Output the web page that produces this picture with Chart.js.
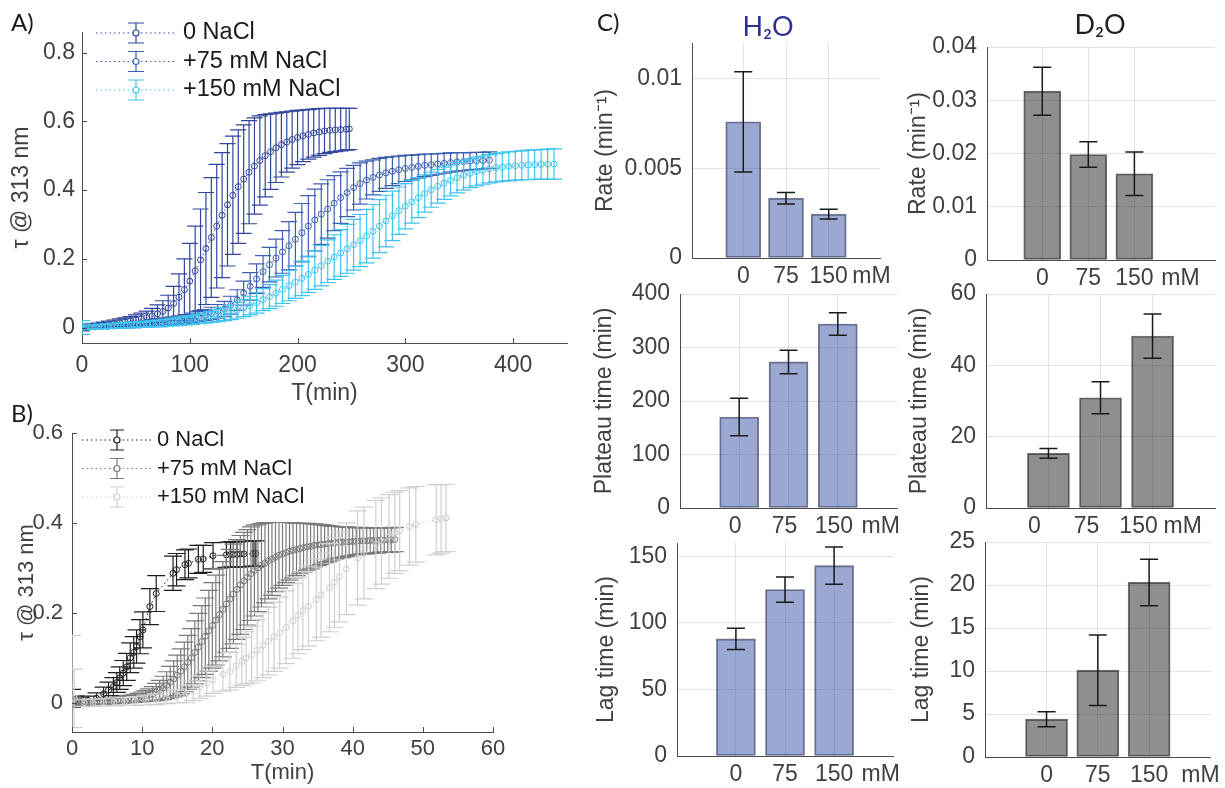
<!DOCTYPE html>
<html>
<head>
<meta charset="utf-8">
<title>NaCl kinetics</title>
<script src="https://cdn.jsdelivr.net/npm/chart.js@4.4.1/dist/chart.umd.min.js"></script>
<style>
  body { margin: 0; background: #fff; }
  #figure { position: relative; width: 1225px; height: 788px; overflow: hidden; background: #fff; }
  #figure canvas { position: absolute; left: 0; top: 0; }
  .tag { position: absolute; font-family: Lato, "Open Sans", sans-serif; line-height: 1; white-space: nowrap; }
</style>
</head>
<body>
<div id="figure">
  <canvas id="panelA" width="1225" height="788"></canvas>
  <canvas id="panelB" width="1225" height="788"></canvas>
  <canvas id="h2oRate" width="1225" height="788"></canvas>
  <canvas id="h2oPlateau" width="1225" height="788"></canvas>
  <canvas id="h2oLag" width="1225" height="788"></canvas>
  <canvas id="d2oRate" width="1225" height="788"></canvas>
  <canvas id="d2oPlateau" width="1225" height="788"></canvas>
  <canvas id="d2oLag" width="1225" height="788"></canvas>
  <div class="tag" style="left:11px;top:10px;font-size:24px;color:#1a1a1a">A)</div>
  <div class="tag" style="left:11px;top:401px;font-size:24px;color:#1a1a1a">B)</div>
  <div class="tag" style="left:597px;top:10px;font-size:24px;color:#1a1a1a">C)</div>
  <div class="tag" style="left:768px;top:12px;font-size:27px;color:#2e3192;transform:translateX(-50%)">H₂O</div>
  <div class="tag" style="left:1100px;top:10px;font-size:27px;color:#231f20;transform:translateX(-50%)">D₂O</div>
</div>
<script>
/* --------------- Panel A data (H2O, tau @ 313 nm vs time) --------------------- */
const aTime0 = [0, 5, 10, 15, 20, 25, 30, 35, 40, 45, 50, 55, 60, 65, 70, 75, 80, 85, 90, 95,
  100, 105, 110, 115, 120, 125, 130, 135, 140, 145, 150, 155, 160, 165, 170, 175, 180, 185, 190, 195,
  200, 205, 210, 215, 220, 225, 230, 235, 240, 245, 248];
const aValue0 = [0.000, 0.002, 0.004, 0.006, 0.008, 0.010, 0.012, 0.014, 0.016, 0.019, 0.022, 0.025, 0.029, 0.034, 0.040, 0.047, 0.057, 0.070, 0.088, 0.110,
  0.135, 0.165, 0.197, 0.230, 0.262, 0.295, 0.327, 0.357, 0.385, 0.410, 0.432, 0.452, 0.470, 0.486, 0.500, 0.512, 0.523, 0.532, 0.540, 0.547,
  0.553, 0.558, 0.562, 0.566, 0.569, 0.572, 0.574, 0.575, 0.576, 0.577, 0.578];
const aError0 = [0.008, 0.006, 0.006, 0.007, 0.008, 0.009, 0.010, 0.011, 0.012, 0.013, 0.015, 0.017, 0.019, 0.022, 0.026, 0.031, 0.037, 0.050, 0.068, 0.090,
  0.110, 0.130, 0.148, 0.163, 0.174, 0.180, 0.182, 0.178, 0.172, 0.165, 0.158, 0.150, 0.140, 0.130, 0.120, 0.110, 0.101, 0.094, 0.088, 0.083,
  0.079, 0.075, 0.072, 0.070, 0.068, 0.066, 0.064, 0.063, 0.062, 0.061, 0.060];

const aTime75 = [0, 6, 12, 18, 24, 30, 36, 42, 48, 54, 60, 66, 72, 78, 84, 90, 96, 102, 108, 114,
  120, 126, 132, 138, 144, 150, 156, 162, 168, 174, 180, 186, 192, 198, 204, 210, 216, 222, 228, 234,
  240, 246, 252, 258, 264, 270, 276, 282, 288, 294, 300, 306, 312, 318, 324, 330, 336, 342, 348, 354,
  360, 366, 372, 378];
const aValue75 = [0.000, 0.001, 0.002, 0.003, 0.004, 0.005, 0.006, 0.007, 0.008, 0.010, 0.012, 0.014, 0.016, 0.018, 0.020, 0.022, 0.025, 0.028, 0.032, 0.036,
  0.041, 0.047, 0.054, 0.065, 0.080, 0.100, 0.120, 0.142, 0.163, 0.183, 0.202, 0.220, 0.238, 0.257, 0.276, 0.295, 0.313, 0.330, 0.345, 0.362,
  0.378, 0.393, 0.407, 0.419, 0.429, 0.437, 0.444, 0.450, 0.455, 0.459, 0.463, 0.466, 0.469, 0.472, 0.474, 0.476, 0.478, 0.480, 0.482, 0.483,
  0.484, 0.485, 0.486, 0.487];
const aError75 = [0.010, 0.005, 0.005, 0.006, 0.006, 0.006, 0.007, 0.007, 0.008, 0.008, 0.009, 0.009, 0.010, 0.010, 0.011, 0.012, 0.013, 0.014, 0.015, 0.016,
  0.018, 0.020, 0.022, 0.026, 0.030, 0.035, 0.040, 0.043, 0.046, 0.050, 0.055, 0.062, 0.070, 0.078, 0.085, 0.089, 0.090, 0.088, 0.085, 0.080,
  0.075, 0.070, 0.065, 0.060, 0.055, 0.051, 0.048, 0.045, 0.042, 0.040, 0.038, 0.036, 0.034, 0.033, 0.031, 0.030, 0.029, 0.028, 0.027, 0.026,
  0.025, 0.025, 0.024, 0.024];

const aTime150 = [0, 6, 12, 18, 24, 30, 36, 42, 48, 54, 60, 66, 72, 78, 84, 90, 96, 102, 108, 114,
  120, 126, 132, 138, 144, 150, 156, 162, 168, 174, 180, 186, 192, 198, 204, 210, 216, 222, 228, 234,
  240, 246, 252, 258, 264, 270, 276, 282, 288, 294, 300, 306, 312, 318, 324, 330, 336, 342, 348, 354,
  360, 366, 372, 378, 384, 390, 396, 402, 408, 414, 420, 426, 432, 438];
const aValue150 = [0.000, 0.001, 0.002, 0.003, 0.004, 0.005, 0.006, 0.007, 0.008, 0.009, 0.010, 0.011, 0.012, 0.014, 0.016, 0.018, 0.020, 0.022, 0.025, 0.028,
  0.031, 0.035, 0.039, 0.044, 0.050, 0.057, 0.064, 0.072, 0.081, 0.090, 0.100, 0.111, 0.122, 0.132, 0.143, 0.155, 0.167, 0.180, 0.193, 0.205,
  0.217, 0.229, 0.241, 0.253, 0.266, 0.280, 0.295, 0.310, 0.325, 0.340, 0.353, 0.366, 0.378, 0.390, 0.401, 0.411, 0.420, 0.428, 0.436, 0.443,
  0.449, 0.454, 0.458, 0.462, 0.465, 0.467, 0.469, 0.471, 0.472, 0.473, 0.474, 0.475, 0.475, 0.476];
const aError150 = [0.020, 0.006, 0.006, 0.006, 0.007, 0.007, 0.007, 0.008, 0.008, 0.008, 0.009, 0.009, 0.010, 0.010, 0.011, 0.012, 0.012, 0.013, 0.014, 0.015,
  0.016, 0.018, 0.019, 0.021, 0.023, 0.025, 0.027, 0.030, 0.032, 0.035, 0.038, 0.041, 0.044, 0.047, 0.050, 0.053, 0.056, 0.059, 0.062, 0.065,
  0.068, 0.071, 0.074, 0.076, 0.078, 0.078, 0.077, 0.075, 0.072, 0.069, 0.066, 0.062, 0.058, 0.054, 0.051, 0.049, 0.047, 0.045, 0.044, 0.043,
  0.042, 0.042, 0.041, 0.041, 0.041, 0.041, 0.042, 0.042, 0.042, 0.043, 0.043, 0.043, 0.044, 0.044];

const aXTicks = [0, 100, 200, 300, 400];
const aYTicks = [0, 0.2, 0.4, 0.6, 0.8];

/* --------------- Panel B data (D2O) --------------------- */
const bTime0 = [0, 0.5, 1.2, 2.3, 3.5, 4.5, 5.2, 5.9, 6.4, 6.8, 7.3, 7.8, 8.3, 8.8, 9.2, 9.7, 10.1, 11.1, 12.0, 14.4,
  14.9, 16.1, 16.6, 18.0, 18.7, 20.1, 22.0, 22.6, 23.0, 23.5, 24.0, 24.5, 25.8, 26.2];
const bValue0 = [0.010, 0.005, 0.003, 0.005, 0.010, 0.020, 0.028, 0.036, 0.045, 0.055, 0.066, 0.080, 0.100, 0.112, 0.125, 0.147, 0.162, 0.214, 0.243, 0.288,
  0.296, 0.307, 0.310, 0.319, 0.320, 0.327, 0.329, 0.330, 0.330, 0.330, 0.331, 0.331, 0.332, 0.332];
const bError0 = [0.020, 0.010, 0.008, 0.010, 0.012, 0.015, 0.018, 0.020, 0.022, 0.025, 0.028, 0.030, 0.033, 0.035, 0.037, 0.038, 0.040, 0.040, 0.040, 0.038,
  0.036, 0.033, 0.032, 0.031, 0.030, 0.029, 0.028, 0.028, 0.028, 0.028, 0.028, 0.028, 0.028, 0.028];

const bTime75 = [0, 0.5, 1, 1.5, 2, 2.5, 3, 3.5, 4, 4.5, 5, 5.5, 6, 6.5, 7, 7.5, 8, 8.5, 9, 9.5,
  10, 10.5, 11, 11.5, 12, 12.5, 13, 13.5, 14, 14.5, 15, 15.5, 16, 16.5, 17, 17.5, 18, 18.5, 19, 19.5,
  20, 20.5, 21, 21.5, 22, 22.5, 23, 23.5, 24, 24.5, 25, 25.5, 26, 26.5, 27, 27.5, 28, 28.5, 29, 29.5,
  30, 30.5, 31, 31.5, 32, 32.5, 33, 33.5, 34, 34.5, 35, 35.5, 36, 36.5, 37, 37.5, 38, 38.5, 39, 39.5,
  40, 40.5, 41, 41.5, 42, 42.5, 43, 43.5, 44, 44.5, 45, 45.5, 46];
const bValue75 = [0.002, 0.001, 0.001, 0.001, 0.001, 0.002, 0.002, 0.003, 0.003, 0.003, 0.004, 0.004, 0.005, 0.005, 0.006, 0.007, 0.008, 0.009, 0.010, 0.011,
  0.013, 0.015, 0.017, 0.020, 0.024, 0.028, 0.033, 0.039, 0.046, 0.053, 0.061, 0.070, 0.080, 0.090, 0.100, 0.112, 0.124, 0.136, 0.148, 0.160,
  0.172, 0.184, 0.196, 0.208, 0.220, 0.231, 0.242, 0.252, 0.262, 0.271, 0.279, 0.287, 0.294, 0.300, 0.306, 0.311, 0.316, 0.320, 0.324, 0.328,
  0.331, 0.334, 0.337, 0.339, 0.341, 0.343, 0.345, 0.347, 0.348, 0.350, 0.351, 0.352, 0.353, 0.354, 0.355, 0.356, 0.357, 0.357, 0.358, 0.358,
  0.359, 0.359, 0.360, 0.360, 0.360, 0.361, 0.361, 0.361, 0.362, 0.362, 0.362, 0.362, 0.363];
const bError75 = [0.010, 0.006, 0.005, 0.005, 0.005, 0.005, 0.005, 0.005, 0.005, 0.006, 0.006, 0.006, 0.006, 0.007, 0.007, 0.007, 0.008, 0.008, 0.009, 0.010,
  0.011, 0.012, 0.014, 0.016, 0.019, 0.022, 0.026, 0.030, 0.035, 0.040, 0.045, 0.050, 0.055, 0.060, 0.065, 0.070, 0.075, 0.080, 0.085, 0.090,
  0.095, 0.100, 0.103, 0.106, 0.108, 0.110, 0.111, 0.111, 0.110, 0.108, 0.106, 0.104, 0.101, 0.097, 0.093, 0.089, 0.085, 0.081, 0.077, 0.073,
  0.070, 0.067, 0.064, 0.061, 0.058, 0.056, 0.054, 0.052, 0.050, 0.048, 0.046, 0.044, 0.042, 0.040, 0.038, 0.036, 0.035, 0.034, 0.033, 0.032,
  0.031, 0.030, 0.030, 0.029, 0.029, 0.028, 0.028, 0.028, 0.027, 0.027, 0.027, 0.027, 0.027];

const bTime150 = [0, 0.3, 1.7, 3.0, 4.5, 6.0, 7.5, 9.0, 10.5, 12.0, 13.5, 15.0, 16.3, 17.3, 18.2, 19.2, 20.1, 21.5, 22.5, 23.4,
  24.2, 24.8, 25.6, 26.4, 27.2, 28.0, 28.8, 29.6, 30.5, 31.5, 32.2, 32.9, 33.7, 34.8, 35.5, 36.7, 37.4, 38.1, 39.1, 40.7,
  41.6, 43.3, 44.1, 45.2, 46.0, 46.7, 48.1, 49.0, 51.9, 52.6, 53.3];
const bValue150 = [0.040, 0.010, 0.000, 0.000, 0.001, 0.002, 0.003, 0.004, 0.006, 0.008, 0.011, 0.015, 0.020, 0.027, 0.035, 0.043, 0.051, 0.063, 0.070, 0.082,
  0.092, 0.100, 0.107, 0.117, 0.128, 0.137, 0.147, 0.156, 0.168, 0.182, 0.194, 0.205, 0.215, 0.229, 0.240, 0.256, 0.268, 0.280, 0.298, 0.322,
  0.333, 0.352, 0.360, 0.370, 0.378, 0.383, 0.392, 0.397, 0.407, 0.409, 0.411];
const bError150 = [0.110, 0.065, 0.008, 0.008, 0.008, 0.009, 0.009, 0.010, 0.011, 0.012, 0.013, 0.015, 0.020, 0.022, 0.025, 0.028, 0.030, 0.037, 0.042, 0.048,
  0.054, 0.058, 0.063, 0.068, 0.072, 0.075, 0.077, 0.079, 0.081, 0.083, 0.085, 0.087, 0.089, 0.091, 0.094, 0.098, 0.100, 0.100, 0.102, 0.105,
  0.102, 0.098, 0.096, 0.093, 0.090, 0.089, 0.086, 0.084, 0.078, 0.076, 0.075];

const bXTicks = [0, 10, 20, 30, 40, 50, 60];
const bYTicks = [0, 0.2, 0.4, 0.6];

/* --------------- Panel C data (fitted parameters) --------------------- */
const concentrations = ['0', '75', '150'];
const unitLabel = 'mM';

const h2oRate = [0.0076, 0.00334, 0.00245];
const h2oRateError = [0.0028, 0.00032, 0.00027];
const h2oPlateau = [170, 273, 344];
const h2oPlateauError = [35, 22, 21];
const h2oLag = [88, 125, 143];
const h2oLagError = [8, 9.5, 14];

const d2oRate = [0.0317, 0.0198, 0.0162];
const d2oRateError = [0.0045, 0.0024, 0.0041];
const d2oPlateau = [15.3, 30.9, 48.2];
const d2oPlateauError = [1.35, 4.5, 6.2];
const d2oLag = [4.4, 10.1, 20.3];
const d2oLagError = [0.87, 4.1, 2.7];

const rateTicksH2O = [0, 0.005, 0.01];
const plateauTicksH2O = [0, 100, 200, 300, 400];
const lagTicksH2O = [0, 50, 100, 150];
const rateTicksD2O = [0, 0.01, 0.02, 0.03, 0.04];
const plateauTicksD2O = [0, 20, 40, 60];
const lagTicksD2O = [0, 5, 10, 15, 20, 25];

/* --------------- Look --------------------- */
const FONT = '"Liberation Sans", Arial, sans-serif';
const AXIS_COLOR = '#4d4d4d';
const TEXT_COLOR = '#404040';
const GRID_COLOR = 'rgba(38, 38, 38, 0.13)';
const PAGE_W = 1225;
const PAGE_H = 788;

// every chart covers the whole page; padding pins its plot area
function framePadding(f) {
    return {
        left: f.left - f.yAxisWidth,
        top: f.top,
        right: PAGE_W - f.right,
        bottom: PAGE_H - f.bottom - f.xAxisHeight
    };
}

/* --------------- Plugins --------------------- */
function drawErrors(chart, index, opts) {
    const ds = chart.data.datasets[index];
    if (!ds.errors) return;
    const meta = chart.getDatasetMeta(index);
    const yScale = chart.scales[meta.yAxisID];
    const area = chart.chartArea;
    const ctx = chart.ctx;
    const half = opts.cap / 2;
    ctx.save();
    ctx.beginPath();
    ctx.rect(area.left, area.top, area.right - area.left, area.bottom - area.top);
    ctx.clip();
    ctx.strokeStyle = opts.color || ds.borderColor;
    ctx.lineWidth = opts.width;
    meta.data.forEach((el, i) => {
        const v = meta.controller.getParsed(i).y;
        const top = yScale.getPixelForValue(v + ds.errors[i]);
        const bottom = yScale.getPixelForValue(v - ds.errors[i]);
        ctx.beginPath();
        ctx.moveTo(el.x, top);
        ctx.lineTo(el.x, bottom);
        ctx.moveTo(el.x - half, top);
        ctx.lineTo(el.x + half, top);
        ctx.moveTo(el.x - half, bottom);
        ctx.lineTo(el.x + half, bottom);
        ctx.stroke();
    });
    ctx.restore();
}

const errorBars = {
    id: 'errorBars',
    beforeDatasetDraw(chart, args, opts) {
        if (args.meta.type === 'line') drawErrors(chart, args.index, opts);
    },
    afterDatasetDraw(chart, args, opts) {
        if (args.meta.type === 'bar') drawErrors(chart, args.index, opts);
    }
};

// MATLAB style tick marks pointing into the plot
const innerTicks = {
    id: 'innerTicks',
    afterDraw(chart, args, opts) {
        const { ctx, chartArea, scales } = chart;
        ctx.save();
        ctx.strokeStyle = AXIS_COLOR;
        ctx.lineWidth = 1;
        ctx.beginPath();
        scales.x.ticks.forEach(t => {
            const px = Math.round(scales.x.getPixelForValue(t.value)) + 0.5;
            ctx.moveTo(px, chartArea.bottom);
            ctx.lineTo(px, chartArea.bottom - opts.length);
        });
        scales.y.ticks.forEach(t => {
            const py = Math.round(scales.y.getPixelForValue(t.value)) + 0.5;
            ctx.moveTo(chartArea.left, py);
            ctx.lineTo(chartArea.left + opts.length, py);
        });
        ctx.stroke();
        ctx.restore();
    }
};

// legend with the errorbar symbol, like MATLAB draws it
const errorLegend = {
    id: 'errorLegend',
    afterDraw(chart, args, opts) {
        const ctx = chart.ctx;
        chart.data.datasets.forEach((ds, i) => {
            const y = opts.top + i * opts.rowHeight;
            const cx = opts.left + opts.lineLength / 2;
            ctx.save();
            ctx.strokeStyle = ds.borderColor;
            ctx.lineWidth = 1;
            ctx.setLineDash([1.5, 3]);
            ctx.beginPath();
            ctx.moveTo(opts.left, y);
            ctx.lineTo(opts.left + opts.lineLength, y);
            ctx.stroke();
            ctx.setLineDash([]);
            ctx.lineWidth = 1.2;
            ctx.beginPath();
            ctx.moveTo(cx, y - opts.half);
            ctx.lineTo(cx, y + opts.half);
            ctx.moveTo(cx - opts.cap / 2, y - opts.half);
            ctx.lineTo(cx + opts.cap / 2, y - opts.half);
            ctx.moveTo(cx - opts.cap / 2, y + opts.half);
            ctx.lineTo(cx + opts.cap / 2, y + opts.half);
            ctx.stroke();
            ctx.beginPath();
            ctx.arc(cx, y, 3, 0, Math.PI * 2);
            ctx.fillStyle = '#ffffff';
            ctx.fill();
            ctx.stroke();
            ctx.fillStyle = '#1a1a1a';
            ctx.font = opts.fontSize + 'px ' + FONT;
            ctx.textBaseline = 'middle';
            ctx.fillText(ds.label, opts.textLeft, y);
            ctx.restore();
        });
    }
};

/* --------------- Kinetics panels (A, B) --------------------- */
function makeKinetics(id, frame, cfg) {
    const font = { family: FONT, size: cfg.fontSize };
    return new Chart(document.getElementById(id), {
        type: 'line',
        data: {
            datasets: cfg.series.map((s, i) => ({
                label: s.label,
                data: s.time.map((t, k) => ({ x: t, y: s.value[k] })),
                errors: s.error,
                borderColor: s.color,
                borderWidth: 1,
                borderDash: [1.5, 3],
                pointRadius: 3,
                pointBorderWidth: 1,
                pointBorderColor: s.color,
                pointBackgroundColor: 'rgba(0,0,0,0)',
                tension: 0,
                order: cfg.series.length - i
            }))
        },
        plugins: [errorBars, innerTicks, errorLegend],
        options: {
            responsive: false,
            animation: false,
            events: [],
            layout: { padding: framePadding(frame) },
            scales: {
                x: {
                    type: 'linear',
                    min: cfg.xMin,
                    max: cfg.xMax,
                    afterBuildTicks: s => { s.ticks = cfg.xTicks.map(v => ({ value: v })); },
                    afterFit: s => { s.height = frame.xAxisHeight; },
                    grid: { display: false, drawTicks: false },
                    border: { color: AXIS_COLOR, width: 1 },
                    ticks: { padding: frame.xTickPad, color: TEXT_COLOR, font: font, maxRotation: 0, autoSkip: false, callback: v => String(v) },
                    title: { display: true, text: 'T(min)', color: TEXT_COLOR, font: font, padding: 0 }
                },
                y: {
                    type: 'linear',
                    min: cfg.yMin,
                    max: cfg.yMax,
                    afterBuildTicks: s => { s.ticks = cfg.yTicks.map(v => ({ value: v })); },
                    afterFit: s => { s.width = frame.yAxisWidth; },
                    grid: { display: false, drawTicks: false },
                    border: { color: AXIS_COLOR, width: 1 },
                    ticks: { padding: frame.yTickPad, color: TEXT_COLOR, font: font, autoSkip: false, callback: v => String(v) },
                    title: { display: true, text: 'τ @ 313 nm', color: TEXT_COLOR, font: font, padding: 0 }
                }
            },
            plugins: {
                legend: { display: false },
                tooltip: { enabled: false },
                errorBars: { cap: cfg.cap, width: 1.2 },
                innerTicks: { length: 5 },
                errorLegend: cfg.legend
            }
        }
    });
}

makeKinetics('panelA',
    { left: 82, top: 32, right: 567, bottom: 343, yAxisWidth: 74, xAxisHeight: 64, xTickPad: 9, yTickPad: 7 },
    {
        fontSize: 23,
        xMin: 0, xMax: 450, xTicks: aXTicks,
        yMin: -0.045, yMax: 0.86, yTicks: aYTicks,
        cap: 16,
        series: [
            { label: '0 NaCl', time: aTime0, value: aValue0, error: aError0, color: '#31469b' },
            { label: '+75 mM NaCl', time: aTime75, value: aValue75, error: aError75, color: '#3d5fb3' },
            { label: '+150 mM NaCl', time: aTime150, value: aValue150, error: aError150, color: '#3ec4f0' }
        ],
        legend: { left: 96, lineLength: 80, top: 33, rowHeight: 28.5, textLeft: 183, cap: 16, half: 10, fontSize: 23.5 }
    });

makeKinetics('panelB',
    { left: 72, top: 433, right: 493, bottom: 732, yAxisWidth: 58, xAxisHeight: 54, xTickPad: 4, yTickPad: 9 },
    {
        fontSize: 22,
        xMin: 0, xMax: 60, xTicks: bXTicks,
        yMin: -0.065, yMax: 0.6, yTicks: bYTicks,
        cap: 18,
        series: [
            { label: '0 NaCl', time: bTime0, value: bValue0, error: bError0, color: '#1f1f1f' },
            { label: '+75 mM NaCl', time: bTime75, value: bValue75, error: bError75, color: '#7a7a7a' },
            { label: '+150 mM NaCl', time: bTime150, value: bValue150, error: bError150, color: '#cfcfcf' }
        ],
        legend: { left: 82, lineLength: 70, top: 440, rowHeight: 28.5, textLeft: 157, cap: 14, half: 10, fontSize: 22 }
    });

/* --------------- Bar panels (C) --------------------- */
const slots = [1, 2, 3];
const H2O_FILL = 'rgba(55, 81, 165, 0.5)';
const H2O_EDGE = 'rgba(45, 45, 70, 0.65)';
const D2O_FILL = 'rgba(31, 31, 31, 0.5)';
const D2O_EDGE = 'rgba(30, 30, 30, 0.65)';

function makeBars(id, frame, cfg) {
    const font = { family: FONT, size: 23 };
    const tickLabels = concentrations.concat(unitLabel);
    return new Chart(document.getElementById(id), {
        type: 'bar',
        data: {
            datasets: [{
                data: slots.map((p, i) => ({ x: p, y: cfg.value[i] })),
                errors: cfg.error,
                backgroundColor: cfg.fill,
                borderColor: cfg.edge,
                borderWidth: 1.2,
                borderSkipped: false,
                barThickness: frame.barThickness
            }]
        },
        plugins: [errorBars],
        options: {
            responsive: false,
            animation: false,
            events: [],
            layout: { padding: framePadding(frame) },
            scales: {
                x: {
                    type: 'linear',
                    min: -0.2,
                    max: frame.xMax,
                    offset: false,
                    afterBuildTicks: s => { s.ticks = slots.concat(frame.unitSlot).map(v => ({ value: v })); },
                    afterFit: s => { s.height = frame.xAxisHeight; },
                    grid: { offset: false, drawTicks: false, color: c => c.index < slots.length ? GRID_COLOR : 'rgba(0,0,0,0)' },
                    border: { color: AXIS_COLOR, width: 1 },
                    ticks: { padding: 5, labelOffset: frame.labelOffset || 0, color: TEXT_COLOR, font: font, maxRotation: 0, minRotation: 0, autoSkip: false, callback: (v, i) => tickLabels[i] }
                },
                y: {
                    type: 'linear',
                    min: 0,
                    max: cfg.yMax,
                    afterBuildTicks: s => { s.ticks = cfg.yTicks.map(v => ({ value: v })); },
                    afterFit: s => { s.width = frame.yAxisWidth; },
                    grid: { color: GRID_COLOR, drawTicks: false },
                    border: { color: AXIS_COLOR, width: 1 },
                    ticks: { padding: 10, color: TEXT_COLOR, font: font, autoSkip: false, callback: v => String(v) },
                    title: { display: true, text: cfg.title, color: TEXT_COLOR, font: font, padding: 0 }
                }
            },
            plugins: {
                legend: { display: false },
                tooltip: { enabled: false },
                errorBars: { cap: 18, width: 1.5, color: '#1a1a1a' }
            }
        }
    });
}

makeBars('h2oRate',
    { left: 692, top: 43, right: 880, bottom: 258, yAxisWidth: 100, xAxisHeight: 30, xMax: 4.2, unitSlot: 4, barThickness: 35 },
    { value: h2oRate, error: h2oRateError, yMax: 0.012, yTicks: rateTicksH2O, title: 'Rate (min⁻¹)', fill: H2O_FILL, edge: H2O_EDGE });
makeBars('h2oPlateau',
    { left: 680, top: 294, right: 897, bottom: 508, yAxisWidth: 89, xAxisHeight: 30, xMax: 4.2, unitSlot: 3.95, barThickness: 39, labelOffset: -4 },
    { value: h2oPlateau, error: h2oPlateauError, yMax: 400, yTicks: plateauTicksH2O, title: 'Plateau time (min)', fill: H2O_FILL, edge: H2O_EDGE });
makeBars('h2oLag',
    { left: 677, top: 543, right: 893, bottom: 756, yAxisWidth: 84, xAxisHeight: 30, xMax: 4.2, unitSlot: 3.95, barThickness: 39 },
    { value: h2oLag, error: h2oLagError, yMax: 160, yTicks: lagTicksH2O, title: 'Lag time (min)', fill: H2O_FILL, edge: H2O_EDGE });
makeBars('d2oRate',
    { left: 987, top: 47, right: 1215, bottom: 260, yAxisWidth: 82, xAxisHeight: 30, xMax: 4.75, unitSlot: 4, barThickness: 37 },
    { value: d2oRate, error: d2oRateError, yMax: 0.04, yTicks: rateTicksD2O, title: 'Rate (min⁻¹)', fill: D2O_FILL, edge: D2O_EDGE });
makeBars('d2oPlateau',
    { left: 986, top: 294, right: 1215, bottom: 508, yAxisWidth: 80, xAxisHeight: 30, xMax: 4.2, unitSlot: 3.85, barThickness: 42, labelOffset: -14 },
    { value: d2oPlateau, error: d2oPlateauError, yMax: 60, yTicks: plateauTicksD2O, title: 'Plateau time (min)', fill: D2O_FILL, edge: D2O_EDGE });
makeBars('d2oLag',
    { left: 985, top: 542, right: 1215, bottom: 757, yAxisWidth: 77, xAxisHeight: 30, xMax: 4.2, unitSlot: 4, barThickness: 42 },
    { value: d2oLag, error: d2oLagError, yMax: 25, yTicks: lagTicksD2O, title: 'Lag time (min)', fill: D2O_FILL, edge: D2O_EDGE });
</script>
</body>
</html>
